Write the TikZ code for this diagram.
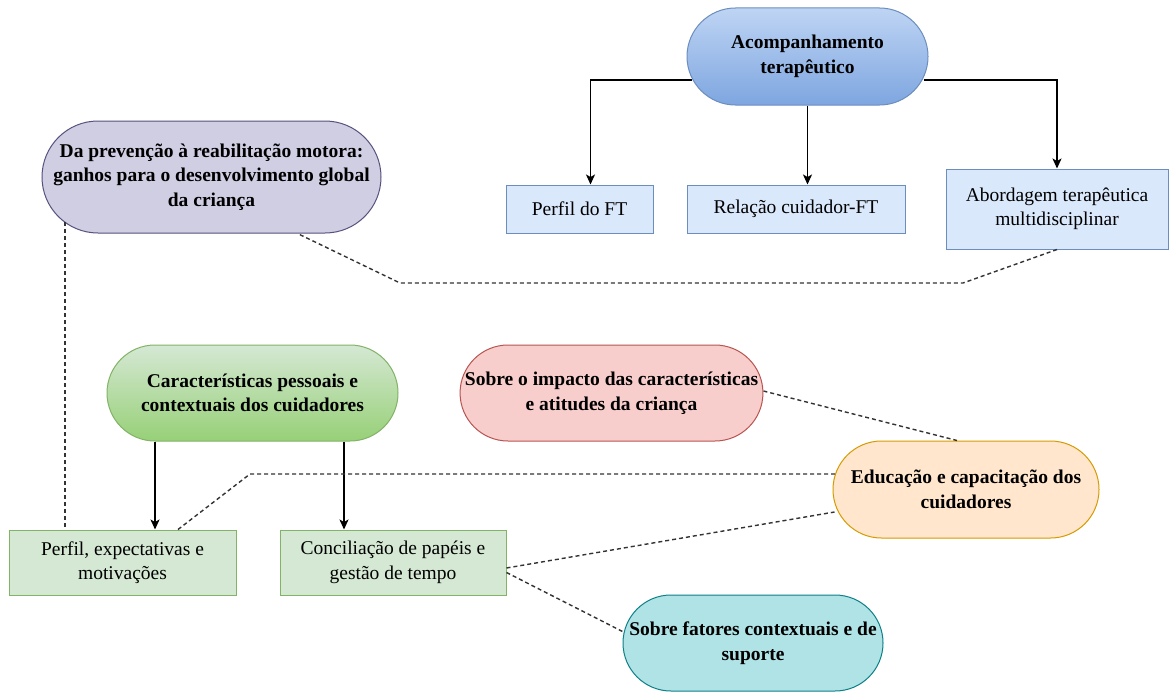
\documentclass[tikz,border=0pt]{standalone}
\usepackage{fontspec}
\setmainfont{Liberation Serif}
\usetikzlibrary{shapes.misc,arrows.meta,calc}
\definecolor{bluefill}{HTML}{DAE8FC}
\definecolor{bluedark}{HTML}{7EA6E0}
\definecolor{blueline}{HTML}{6C8EBF}
\definecolor{purfill}{HTML}{D0CEE2}
\definecolor{purline}{HTML}{56517E}
\definecolor{grnfill}{HTML}{D5E8D4}
\definecolor{grndark}{HTML}{97D077}
\definecolor{grnline}{HTML}{82B366}
\definecolor{redfill}{HTML}{F8CECC}
\definecolor{redline}{HTML}{B85450}
\definecolor{orfill}{HTML}{FFE6CC}
\definecolor{orline}{HTML}{D79B00}
\definecolor{tealfill}{HTML}{B0E3E6}
\definecolor{tealline}{HTML}{0E8088}
\definecolor{dashcol}{HTML}{333333}
\begin{document}
\begin{tikzpicture}[x=1pt,y=-1pt,
  txt/.style={align=center,font=\fontsize{19.5}{24.5}\selectfont},
  pill/.style={rounded rectangle,rounded rectangle arc length=180,inner sep=0pt,line width=1pt,align=center,font=\fontsize{19.5}{24.5}\selectfont\bfseries},
  sqbox/.style={rectangle,inner sep=0pt,line width=1pt,txt},
  arr/.style={line width=1.4pt,-{Stealth[length=10pt,width=9pt,inset=2.5pt]}},
  dsh/.style={line width=1.4pt,dashcol,dash pattern=on 4pt off 3pt}]
\useasboundingbox (0,0) rectangle (1169,693);
\fill[white] (0,0) rectangle (1169,693);

% nodes
\node[pill,draw=blueline,top color=bluefill!70!bluedark,bottom color=bluedark,minimum width=241pt,minimum height=97pt] (acomp) at (807.5,56.5) {Acompanhamento\\terapêutico};
\node[sqbox,draw=blueline,fill=bluefill,minimum width=147pt,minimum height=48pt] (pft) at (579.5,209) {Perfil do FT};
\node[sqbox,draw=blueline,fill=bluefill,minimum width=218pt,minimum height=48pt] (rel) at (796,209) {Relação cuidador-FT};
\node[sqbox,draw=blueline,fill=bluefill,minimum width=222pt,minimum height=80pt] (abord) at (1057,209) {Abordagem terapêutica\\multidisciplinar};
\node[pill,draw=purline,fill=purfill,minimum width=339pt,minimum height=112pt] (purp) at (211.5,177) {Da prevenção à reabilitação motora:\\ganhos para o desenvolvimento global\\da criança};
\node[pill,draw=grnline,top color=grnfill,bottom color=grndark,minimum width=291pt,minimum height=96pt] (grn) at (252.5,393) {Características pessoais e\\contextuais dos cuidadores};
\node[pill,draw=redline,fill=redfill,minimum width=301pt,minimum height=96pt] (red) at (611.5,393) {Sobre o impacto das características\\e atitudes da criança};
\node[sqbox,draw=grnline,fill=grnfill,minimum width=227pt,minimum height=65pt] (perfexp) at (122.5,562.5) {Perfil, expectativas e\\motivações};
\node[sqbox,draw=grnline,fill=grnfill,minimum width=226pt,minimum height=65pt] (conc) at (393,562.5) {Conciliação de papéis e\\gestão de tempo};
\node[pill,draw=orline,fill=orfill,minimum width=266pt,minimum height=97pt] (educ) at (966,489.5) {Educação e capacitação dos\\cuidadores};
\node[pill,draw=tealline,fill=tealfill,minimum width=260pt,minimum height=96pt] (fat) at (753,643) {Sobre fatores contextuais e de\\suporte};

% solid arrows
\draw[arr] ($(acomp.west)+(5,23.5)$) -| ($(pft.north)+(11,0)$);
\draw[arr] (acomp.south) -- (acomp.south |- rel.north);
\draw[arr] ($(acomp.east)+(-5,23.5)$) -| (abord.north);
\coordinate (g1) at ($(grn.south)+(-97.5,0)$);
\coordinate (g2) at ($(grn.south)+(91.5,0)$);
\draw[arr] (g1) -- (g1 |- perfexp.north);
\draw[arr] (g2) -- (g2 |- conc.north);

% dashed links
\coordinate (d1) at (963,283);
\coordinate (d2) at (400,283);
\draw[dsh] (abord.south) -- (d1) -- (d2) -- ($(purp.south)+(86,0)$);
\draw[dsh] ($(purp.center)+(-146.5,45)$) -- ($(perfexp.north)+(-57.5,0)$);
\coordinate (d3) at (250,474);
\draw[dsh] ($(perfexp.north)+(55.5,0)$) -- (d3) -- ($(educ.west)+(2.5,-15.5)$);
\draw[dsh] ($(red.east)+(0,-2)$) -- ($(educ.north)+(-9,0)$);
\draw[dsh] ($(conc.east)+(0,5.5)$) -- ($(educ.west)+(2,22.5)$);
\draw[dsh] ($(conc.east)+(0,10)$) -- ($(fat.west)+(1,-11)$);
\end{tikzpicture}
\end{document}
